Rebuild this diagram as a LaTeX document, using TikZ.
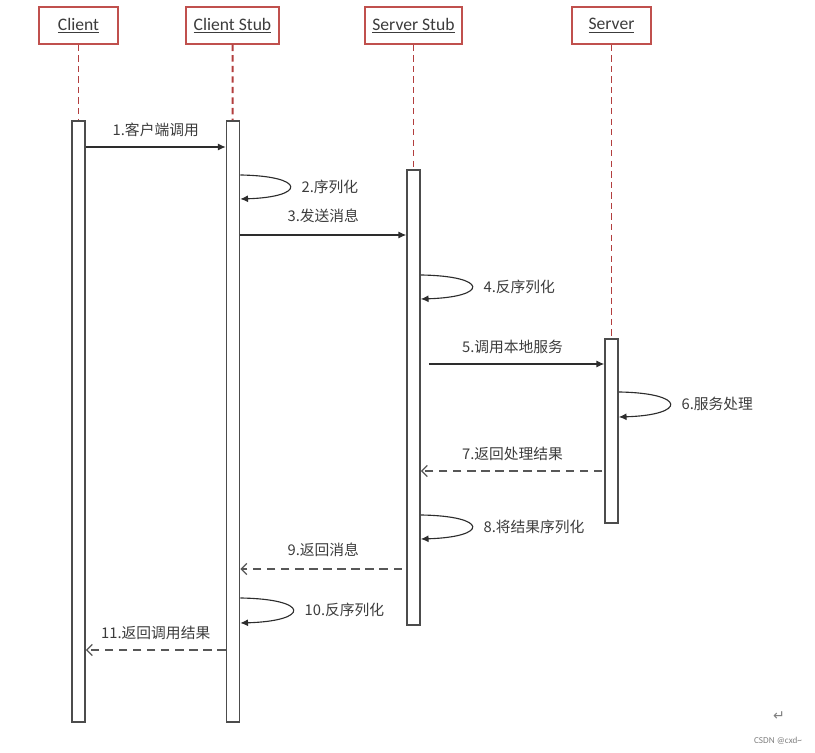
\documentclass[tikz,border=0pt]{standalone}
\usepackage{fontspec}
\setmainfont{Carlito}
\newfontfamily\cjk{Noto Sans CJK SC}
\newfontfamily\symf{DejaVu Sans}
\usetikzlibrary{arrows.meta}
\definecolor{boxred}{RGB}{192,80,77}
\definecolor{lifered}{RGB}{178,62,62}
\definecolor{linegray}{RGB}{45,45,45}
\definecolor{txtgray}{RGB}{60,60,60}

\begin{document}
\begin{tikzpicture}[x=0.025cm,y=-0.025cm,
  obj/.style={draw=boxred,line width=1pt,fill=white,minimum height=0.925cm,
    inner sep=0pt,text=txtgray,font=\fontsize{12.5}{14}\selectfont},
  act/.style={draw=linegray!85,line width=1pt,fill=white,minimum width=0.33cm,inner sep=0pt},
  life/.style={draw=lifered,line width=1.4pt,dash pattern=on 4.5pt off 3pt},
  call/.style={draw=linegray,line width=0.8pt,-{Latex[length=5.5pt,width=5pt]}},
  reply/.style={draw=linegray!80,line width=0.9pt,dash pattern=on 6pt off 4pt,
    -{Straight Barb[length=4pt,width=8pt]}},
  lbl/.style={font=\cjk\fontsize{10.5}{12}\selectfont,text=txtgray,inner sep=0pt}]
  \useasboundingbox (0,0) rectangle (815,753);

  % objects
  \node[obj,minimum width=1.975cm] (client) at (78.5,25.5) {\underline{Client}};
  \node[obj,minimum width=2.325cm] (cstub) at (232.5,25.5) {\underline{Client Stub}};
  \node[obj,minimum width=2.425cm] (sstub) at (413.5,25.5) {\underline{Server Stub}};
  \node[obj,minimum width=1.975cm] (server) at (611.5,25.5) {\underline{Server}};

  % activation bars
  \node[act,minimum height=15.025cm] (actC) at (78.5,421.5) {};
  \node[act,minimum height=15.025cm] (actCS) at (233,421.5) {};
  \node[act,minimum height=11.375cm] (actSS) at (413.5,397.5) {};
  \node[act,minimum height=4.6cm] (actS) at (611.5,431) {};

  % lifelines
  \draw[life] (client) -- (actC);
  \draw[life] (cstub) -- (actCS);
  \draw[life] (sstub) -- (actSS);
  \draw[life] (server) -- (actS);

  % messages
  \draw[call] (actC.east |- 0,147) -- node[lbl,above=7pt] {1.客户端调用} (actCS.west |- 0,147);
  \draw[call] (actCS.east |- 0,175) .. controls +(66,1) and +(66,-2) ..
    node[lbl,right=8pt] {2.序列化} (actCS.east |- 0,199);
  \draw[call] (actCS.east |- 0,235) -- node[lbl,above=8pt] {3.发送消息} (actSS.west |- 0,235);
  \draw[call] (actSS.east |- 0,275) .. controls +(68,1) and +(68,-2) ..
    node[lbl,right=8pt] {4.反序列化} (actSS.east |- 0,299);
  \draw[call,shorten <=5.7pt] (actSS.east |- 0,364) -- node[lbl,above=7pt] {5.调用本地服务} (actS.west |- 0,364);
  \draw[call] (actS.east |- 0,392) .. controls +(68,1) and +(68,-2) ..
    node[lbl,right=8pt] {6.服务处理} (actS.east |- 0,417);
  \draw[reply,shorten <=1.5pt] (actS.west |- 0,471) -- node[lbl,above=7pt] {7.返回处理结果} (actSS.east |- 0,471);
  \draw[call] (actSS.east |- 0,515) .. controls +(68,1) and +(68,-2) ..
    node[lbl,right=8pt] {8.将结果序列化} (actSS.east |- 0,539);
  \draw[reply,shorten <=3pt] (actSS.west |- 0,569) -- node[lbl,above=8pt] {9.返回消息} (actCS.east |- 0,569);
  \draw[call] (actCS.east |- 0,598) .. controls +(70,1) and +(70,-2) ..
    node[lbl,right=8pt] {10.反序列化} (actCS.east |- 0,623);
  \draw[reply] (actCS.west |- 0,650) -- node[lbl,above=7pt] {11.返回调用结果} (actC.east |- 0,650);

  % page marks
  \node[font=\symf\fontsize{10}{12}\selectfont,text=gray] (ret) at (779,716) {↵};
  \node[font=\fontsize{6.5}{8}\selectfont,text=gray] (mark) at (778,741) {CSDN @cxd\textasciitilde};
\end{tikzpicture}
\end{document}
